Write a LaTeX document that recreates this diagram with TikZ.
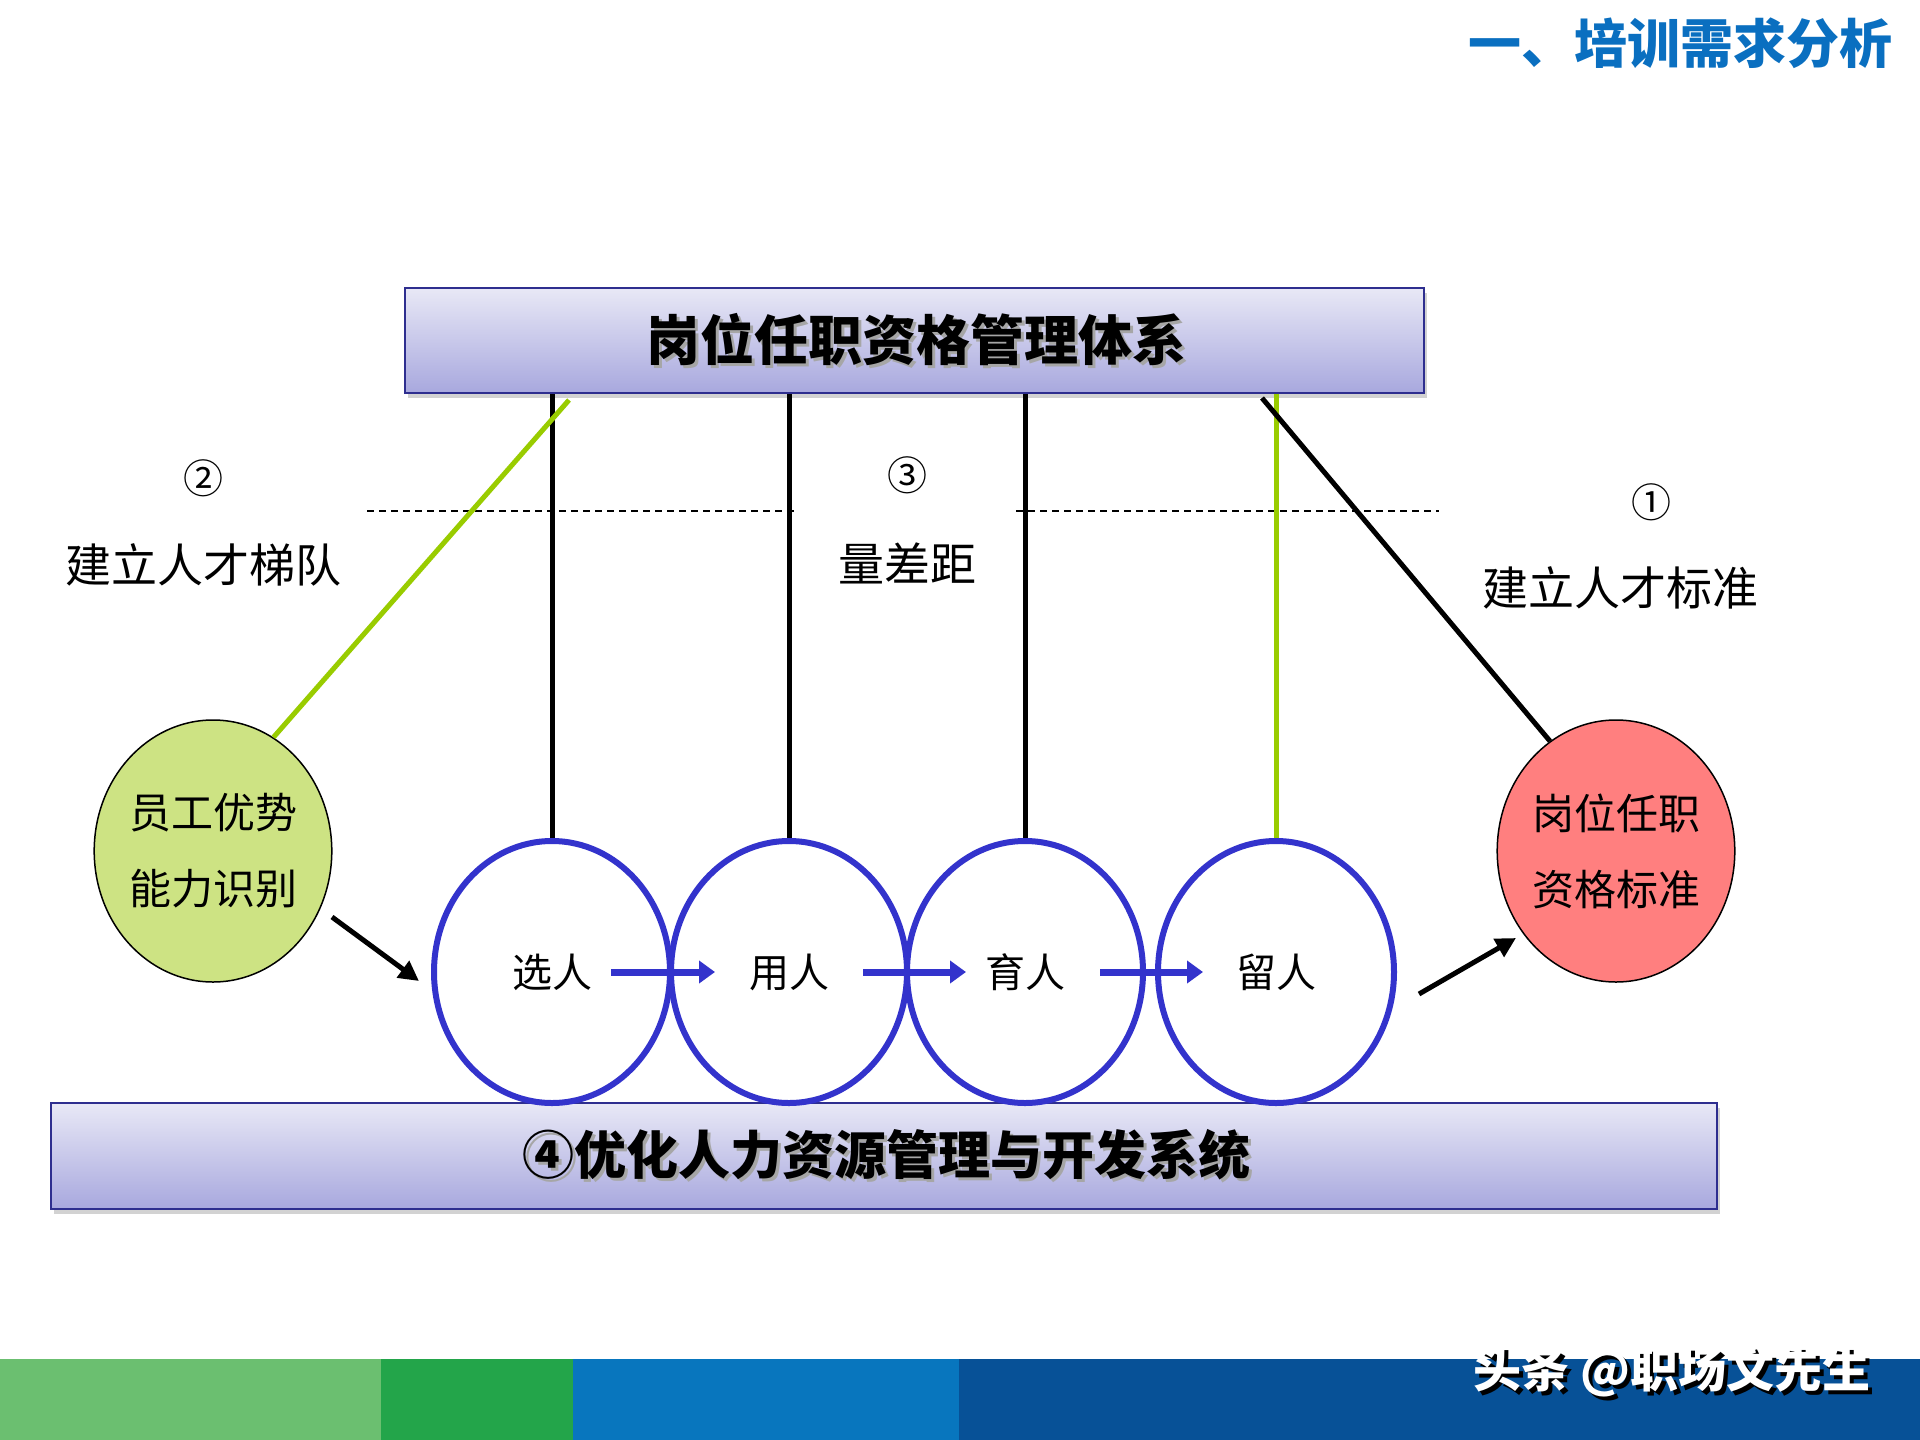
\documentclass[tikz,border=0pt]{standalone}
\usepackage{fontspec}
\setmainfont{Noto Sans CJK SC}
\usetikzlibrary{shapes.geometric,arrows.meta,shadows}
\definecolor{boxtop}{HTML}{E8E8F6}
\definecolor{boxbot}{HTML}{A8A8DE}
\definecolor{boxline}{HTML}{2E2E8F}
\definecolor{ringblue}{HTML}{3333CC}
\definecolor{limegreen}{HTML}{99CC00}
\definecolor{lightgreen}{HTML}{CDE383}
\definecolor{salmon}{HTML}{FF7F7F}
\definecolor{titleblue}{HTML}{0A6FC0}
\definecolor{barA}{HTML}{6BBF70}
\definecolor{barB}{HTML}{23A54A}
\definecolor{barC}{HTML}{0876BE}
\definecolor{barD}{HTML}{075197}
\newcommand{\shadowtext}[3]{\rlap{\hspace{#1}\raisebox{-#1}{\textcolor{#2}{#3}}}#3}
\tikzset{
  sysbox/.style={rectangle, draw=boxline, line width=2pt, top color=boxtop, bottom color=boxbot,
    inner sep=0pt, drop shadow={shadow xshift=3pt, shadow yshift=-5pt, opacity=0.35}},
  ring/.style={ellipse, draw=ringblue, line width=6pt, minimum width=236pt, minimum height=262pt,
    inner sep=0pt, font=\fontsize{40}{40}\selectfont},
  sideell/.style={ellipse, draw=black, line width=1.5pt, minimum width=236pt, minimum height=262pt,
    inner sep=0pt, align=center, font=\fontsize{42}{76}\selectfont},
  hang/.style={line width=5pt, black},
  greenline/.style={line width=5pt, limegreen},
  flow/.style={line width=7pt, ringblue, -{Triangle[length=16pt,width=22pt]}},
  bigarrow/.style={line width=5pt, black, -{Triangle[length=20pt,width=20pt]}},
  guide/.style={line width=1.5pt, dash pattern=on 7pt off 5pt},
  lbl/.style={font=\fontsize{46}{46}\selectfont},
  num/.style={font=\fontsize{40}{40}\selectfont}
}
\begin{document}
\begin{tikzpicture}[x=1pt,y=-1pt]
\useasboundingbox (0,0) rectangle (1920,1440);
\fill[white] (0,0) rectangle (1920,1440);
% bottom bar
\fill[barA] (0,1359) rectangle (381,1440);
\fill[barB] (381,1359) rectangle (573,1440);
\fill[barC] (573,1359) rectangle (959,1440);
\fill[barD] (959,1359) rectangle (1920,1440);
\node[font=\bfseries\fontsize{48}{48}\selectfont, white, anchor=east] (wm) at (1874,1373)
  {\shadowtext{4pt}{black}{头条 @职场文先生}};
% title
\node[font=\bfseries\fontsize{53}{53}\selectfont, titleblue, anchor=east] (title) at (1896,43) {一、培训需求分析};
% boxes
\node[sysbox, minimum width=1019pt, minimum height=105pt] (top) at (914.5,340.5) {};
\node[font=\bfseries\fontsize{54}{54}\selectfont] (toptext) at (916,341) {\shadowtext{3pt}{black!35}{岗位任职资格管理体系}};
\node[sysbox, minimum width=1666pt, minimum height=106pt] (bot) at (884,1156) {};
\node[font=\bfseries\fontsize{52}{52}\selectfont] (bottext) at (886,1156) {\shadowtext{3pt}{black!35}{④优化人力资源管理与开发系统}};
% dashed guides
\coordinate (d1) at (367,511); \coordinate (d2) at (796,511);
\coordinate (d3) at (1016,511); \coordinate (d4) at (1439,511);
\draw[guide] (d1) -- (d2);
\draw[guide] (d3) -- (d4);
% rings
\node[ring] (e1) at (552,972) {选人};
\node[ring] (e2) at (789,972) {用人};
\node[ring] (e3) at (1025,972) {育人};
\node[ring] (e4) at (1276,972) {留人};
% side ellipses
\node[sideell, fill=lightgreen] (gE) at (213,851) {员工优势\\能力识别};
\node[sideell, fill=salmon] (rE) at (1616,851) {岗位任职\\资格标准};
% hanging lines
\draw[hang] (e1.north) -- (e1.north |- top.south);
\draw[hang] (e2.north) -- (e2.north |- top.south);
\draw[hang] (e3.north) -- (e3.north |- top.south);
\draw[greenline] (e4.north) -- (e4.north |- top.south);
% diagonal lines
\coordinate (gtop) at (569,400);
\coordinate (btop) at (1262,398);
\draw[greenline] (gtop) -- (gE.62);
\draw[hang] (btop) -- (rE.121);
% flow arrows
\coordinate (f1a) at (611,972); \coordinate (f1b) at (715,972);
\coordinate (f2a) at (863,972); \coordinate (f2b) at (966,972);
\coordinate (f3a) at (1100,972); \coordinate (f3b) at (1203,972);
\draw[flow] (f1a) -- (f1b);
\draw[flow] (f2a) -- (f2b);
\draw[flow] (f3a) -- (f3b);
% big arrows
\coordinate (a1s) at (332,917); \coordinate (a1e) at (419,981);
\coordinate (a2s) at (1419,994); \coordinate (a2e) at (1516,938);
\draw[bigarrow] (a1s) -- (a1e);
\draw[bigarrow] (a2s) -- (a2e);
% labels
\node[num] (n2) at (203,478) {②};
\node[lbl] (l2) at (203,565) {建立人才梯队};
\node[num] (n3) at (907,475) {③};
\node[lbl] (l3) at (907,563) {量差距};
\node[num] (n1) at (1651,502) {①};
\node[lbl] (l1) at (1620,588) {建立人才标准};
\end{tikzpicture}
\end{document}
